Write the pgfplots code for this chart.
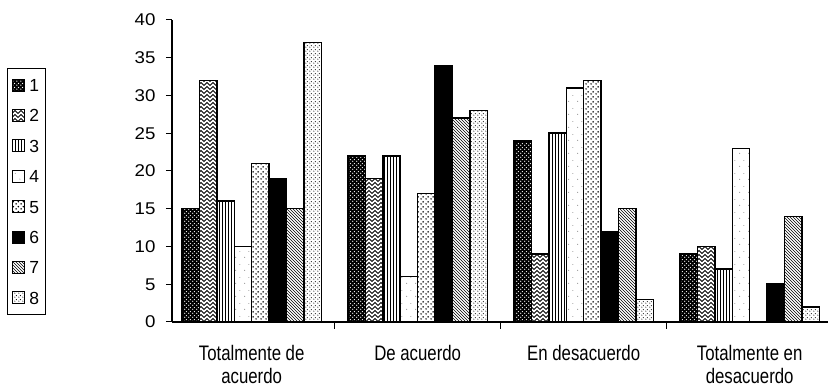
\documentclass[border=0pt]{standalone}
\usepackage{pgfplots}
\pgfplotsset{compat=1.18}
\usepackage{fontspec}
\setmainfont{Liberation Sans}
\newfontfamily\narrowfont{Liberation Sans}[FakeStretch=0.8]
\newfontfamily\widefont{Liberation Sans}[FakeStretch=1.1]
\usetikzlibrary{patterns}

\pgfdeclarepatternformonly{zigzag}{\pgfpoint{-0.5pt}{-0.5pt}}{\pgfpoint{6.5pt}{4.5pt}}{\pgfpoint{6pt}{4pt}}{
  \pgfsetlinewidth{1pt}
  \pgfpathmoveto{\pgfpoint{0pt}{0.5pt}}
  \pgfpathlineto{\pgfpoint{3pt}{3.5pt}}
  \pgfpathlineto{\pgfpoint{6pt}{0.5pt}}
  \pgfusepath{stroke}}
\pgfdeclarepatternformonly{bigdots}{\pgfpointorigin}{\pgfpoint{5pt}{5pt}}{\pgfpoint{5pt}{5pt}}{
  \pgfpathcircle{\pgfpoint{1.25pt}{1.25pt}}{0.95pt}
  \pgfpathcircle{\pgfpoint{3.75pt}{3.75pt}}{0.95pt}
  \pgfusepath{fill}}
\pgfdeclarepatternformonly{holes}{\pgfpointorigin}{\pgfpoint{4pt}{4pt}}{\pgfpoint{4pt}{4pt}}{
  \pgfpathcircle{\pgfpoint{1pt}{1pt}}{0.8pt}
  \pgfpathcircle{\pgfpoint{3pt}{3pt}}{0.8pt}
  \pgfusepath{fill}}
\pgfdeclarepatternformonly{finedots}{\pgfpointorigin}{\pgfpoint{3.5pt}{3.5pt}}{\pgfpoint{3.5pt}{3.5pt}}{
  \pgfpathcircle{\pgfpoint{0.9pt}{0.9pt}}{0.6pt}
  \pgfpathcircle{\pgfpoint{2.65pt}{2.65pt}}{0.6pt}
  \pgfusepath{fill}}
\pgfdeclarepatternformonly{specks}{\pgfpointorigin}{\pgfpoint{9pt}{13pt}}{\pgfpoint{9pt}{13pt}}{
  \pgfpathcircle{\pgfpoint{2pt}{3pt}}{0.4pt}
  \pgfpathcircle{\pgfpoint{6.5pt}{9pt}}{0.35pt}
  \pgfusepath{fill}}

\begin{document}
\begin{tikzpicture}[font=\fontsize{16.5}{23}\selectfont]
\useasboundingbox (0,0) rectangle (828pt,390pt);
\begin{axis}[
  at={(172pt,68pt)}, anchor=south west,
  scale only axis,
  width=655.7pt, height=302pt,
  xmin=-0.48, xmax=3.47,
  ymin=0, ymax=40,
  ybar=0pt, bar width=17.4pt,
  every axis plot/.append style={
    draw=black, line width=1.5pt,
    legend image code/.code={\draw[##1, line width=0.9pt] (0pt,-6pt) rectangle (12pt,6pt);}
  },
  axis lines=left,
  axis line style={-, line width=1.1pt},
  tick style={black, line width=1pt},
  tick align=outside,
  major tick length=6pt, minor tick length=7pt,
  ytick={0,5,...,40},
  xtick={0,1,2,3},
  xticklabels={{Totalmente de\\acuerdo},{De acuerdo},{En desacuerdo},{Totalmente en\\desacuerdo}},
  minor xtick={-0.5,0.5,1.5,2.5},
  major x tick style={draw=none},
  xticklabel style={align=center, font=\narrowfont\fontsize{21}{23}\selectfont, yshift=-14pt},
  yticklabel style={font=\widefont\fontsize{17}{20}\selectfont, xshift=-7pt},
  /pgf/number format/assume math mode=true,
  legend entries={1,2,3,4,5,6,7,8},
  legend columns=1,
  legend cell align=left,
  legend style={
    at={(axis description cs:0,1)}, anchor=north west,
    xshift=-165pt, yshift=-48pt,
    draw=black, line width=1pt,
    inner xsep=5pt, inner ysep=9pt,
    row sep=15.4pt, column sep=3pt,
    nodes={inner sep=1pt, text width=10pt, text height=13pt, text depth=0pt, font=\fontsize{17.5}{20}\selectfont},
  },
]
% 1
\addplot[fill=black, postaction={pattern=holes, pattern color=white}] coordinates {(0,15) (1,22) (2,24) (3,9)};
% 2
\addplot[fill=white, postaction={pattern=zigzag}] coordinates {(0,32) (1,19) (2,9) (3,10)};
% 3
\addplot[fill=white, postaction={pattern=vertical lines}] coordinates {(0,16) (1,22) (2,25) (3,7)};
% 4
\addplot[fill=white, postaction={pattern=specks}] coordinates {(0,10) (1,6) (2,31) (3,23)};
% 5
\addplot[fill=white, postaction={pattern=bigdots}] coordinates {(0,21) (1,17) (2,32)};
% 6
\addplot[fill=black] coordinates {(0,19) (1,34) (2,12) (3,5)};
% 7
\addplot[fill=white, postaction={pattern=north west lines}] coordinates {(0,15) (1,27) (2,15) (3,14)};
% 8
\addplot[fill=white, postaction={pattern=finedots}] coordinates {(0,37) (1,28) (2,3) (3,2)};
\end{axis}
\end{tikzpicture}
\end{document}
